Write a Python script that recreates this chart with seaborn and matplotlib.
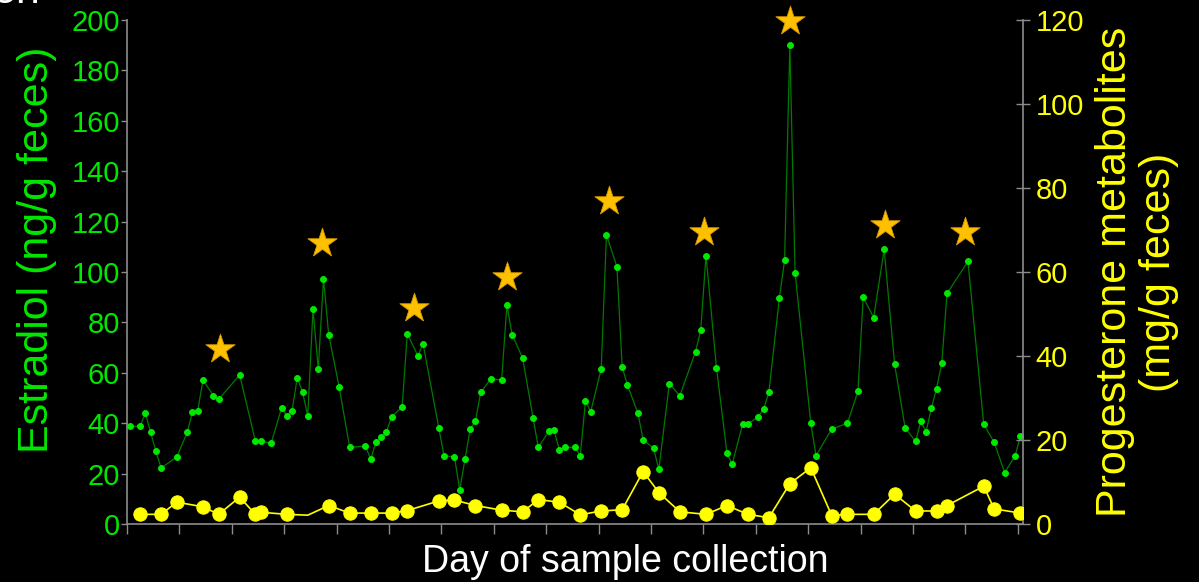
import numpy as np
import pandas as pd
import seaborn as sns
from matplotlib import pyplot as plt

# estradiol (left axis, ng/g feces), one value per sampled day
e2_days = [0, 2, 3, 4, 5, 6, 9, 11, 12, 13, 14, 16, 17, 21, 24, 25, 27, 29,
           30, 31, 32, 33, 34, 35, 36, 37, 38, 40, 42, 45, 46, 47, 48, 49, 50,
           52, 53, 55, 56, 59, 60, 62, 63, 64, 65, 66, 67, 69, 71, 72, 73, 75,
           77, 78, 80, 81, 82, 83, 85, 86, 87, 88, 90, 91, 93, 94, 95, 97, 98,
           100, 101, 103, 105, 108, 109, 110, 112, 114, 115, 117, 118, 120, 121,
           122, 124, 125, 126, 127, 130, 131, 134, 137, 139, 140, 142, 144, 146,
           148, 150, 151, 152, 153, 154, 155, 156, 160, 163, 165, 167, 169, 170]
e2_vals = [38.8, 38.8, 44.0, 36.4, 29.0, 22.2, 26.6, 36.4, 44.6, 45.0, 57.1,
           50.9, 49.5, 59.1, 32.9, 32.9, 32.0, 46.0, 43.0, 45.0, 58.1, 52.3,
           43.0, 85.2, 61.5, 97.3, 75.1, 54.2, 30.4, 31.0, 25.7, 32.4, 34.4,
           36.4, 42.6, 46.4, 75.5, 66.8, 71.5, 38.2, 27.1, 26.6, 13.5, 25.7,
           37.7, 40.8, 52.3, 57.7, 57.0, 86.8, 75.1, 65.9, 42.1, 30.4, 36.8,
           37.3, 29.5, 30.4, 30.4, 27.1, 48.8, 44.6, 61.5, 114.8, 102.1, 62.4,
           55.2, 44.0, 33.5, 30.0, 21.7, 55.7, 50.9, 68.3, 77.0, 106.5, 62.0,
           28.1, 23.7, 39.7, 39.7, 42.6, 45.6, 52.2, 89.6, 104.6, 189.9, 99.8,
           40.0, 27.1, 37.7, 40.0, 52.7, 90.0, 81.9, 109.0, 63.4, 38.2, 32.8,
           40.8, 36.6, 45.9, 53.7, 63.9, 91.5, 104.2, 39.6, 32.4, 20.4, 27.1,
           34.8]

# progesterone metabolites (right axis, mg/g feces)
p4_days = [2, 6, 9, 14, 17, 21, 24, 25, 30, 34, 38, 42, 46, 50, 53, 59, 62,
           66, 71, 75, 78, 82, 86, 90, 94, 98, 101, 105, 110, 114, 118, 122,
           126, 130, 134, 137, 142, 146, 150, 154, 156, 163, 165, 170]
p4_vals = [2.3, 2.3, 5.2, 4.1, 2.3, 6.4, 2.3, 2.8, 2.3, 2.1, 4.4, 2.6, 2.6,
           2.6, 3.2, 5.5, 5.7, 4.4, 3.3, 2.9, 5.8, 5.2, 2.2, 3.1, 3.4, 12.5,
           7.5, 2.9, 2.3, 4.4, 2.3, 1.5, 9.6, 13.4, 2.0, 2.3, 2.3, 7.1, 3.1,
           3.1, 4.4, 9.0, 3.6, 2.6]
p4_no_marker = [34]

# stars marking estradiol peaks (left axis units)
star_days = [17.2, 36.7, 54.3, 72.1, 91.4, 109.7, 126.1, 144.2, 159.4]
star_vals = [69.4, 111.4, 85.6, 97.9, 128.2, 115.9, 199.8, 118.8, 115.9]

e2 = pd.DataFrame({'day': np.array(e2_days) + 0.5, 'val': e2_vals})
p4 = pd.DataFrame({'day': np.array(p4_days) + 0.5, 'val': p4_vals})
stars = pd.DataFrame({'day': np.array(star_days) + 0.5, 'val': star_vals})

sns.set_style('dark', rc={'axes.facecolor': 'black', 'figure.facecolor': 'black'})
plt.rcParams['font.family'] = ['Liberation Sans', 'DejaVu Sans']

green = '#00E800'
yellow = '#FFFF00'
grey = '#8C8C8C'

fig = plt.figure(figsize=(11.99, 5.82), dpi=100)
ax = fig.add_axes([127 / 1199, 1 - 524 / 582, 896 / 1199, 504 / 582])
ax2 = ax.twinx()

sns.lineplot(data=e2, x='day', y='val', ax=ax, color='#007A00', lw=0.9,
             marker='o', markersize=4.2, markerfacecolor=green,
             markeredgecolor=green, zorder=3)
sns.scatterplot(data=stars, x='day', y='val', ax=ax, marker='*', s=490,
                color='#FFC000', edgecolor='#D89A00', linewidth=0.6,
                zorder=4, clip_on=False)

shown = [d not in p4_no_marker for d in p4_days]
sns.lineplot(data=p4, x='day', y='val', ax=ax2, color=yellow, lw=1.2,
             marker='o', markersize=9.6, markerfacecolor=yellow,
             markeredgecolor=yellow, markevery=shown, zorder=3)

ax.set_xlim(0, 171)
ax.set_ylim(0, 200)
ax2.set_ylim(0, 120)
ax.set_xticks(np.arange(0, 171, 10))
ax.set_xticklabels([])
ax.set_yticks(np.arange(0, 201, 20))
ax2.set_yticks(np.arange(0, 121, 20))
ax.set_ylabel('')
ax2.set_ylabel('')

for a in (ax, ax2):
    a.grid(False)
    for s in a.spines.values():
        s.set_visible(False)
ax.spines['left'].set_visible(True)
ax.spines['bottom'].set_visible(True)
ax2.spines['right'].set_visible(True)
for s in (ax.spines['left'], ax.spines['bottom'], ax2.spines['right']):
    s.set_color(grey)
    s.set_linewidth(1.2)

ax.tick_params(axis='y', direction='out', length=4, width=1, color=grey,
               labelcolor=green, labelsize=21, pad=1, left=True)
ax.tick_params(axis='x', direction='out', length=7, width=1, color=grey,
               bottom=True)
ax2.tick_params(axis='y', direction='inout', length=10, width=1, color=grey,
                labelcolor=yellow, labelsize=21, pad=4, right=True)

# a few ticks show up white in the original
for t in ax.yaxis.get_major_ticks():
    if round(t.get_loc()) in (60, 140):
        t.tick1line.set_color('white')
for t in ax.xaxis.get_major_ticks():
    if round(t.get_loc()) in (90, 130):
        t.tick1line.set_color('white')

ax.set_xlabel('Day of sample collection', color='white', fontsize=27)
ax.xaxis.set_label_coords(0.556, -0.04)

# axis titles placed by hand, as in the original
fig.text(37 / 1199, 1 - 250 / 582, 'Estradiol (ng/g feces)', color=green,
         fontsize=31, rotation=90, ha='center', va='center')
fig.text(1137 / 1199, 1 - 272 / 582, 'Progesterone metabolites\n(mg/g feces)',
         color=yellow, fontsize=31, rotation=90, ha='center', va='center',
         multialignment='center', linespacing=1.15)

# remains of a title cut off at the top edge
fig.text(40 / 1199, 1 - 3 / 582, 'on', ha='right', va='baseline',
         color='white', fontsize=31)

plt.savefig('out.png', dpi=100, facecolor='black')
